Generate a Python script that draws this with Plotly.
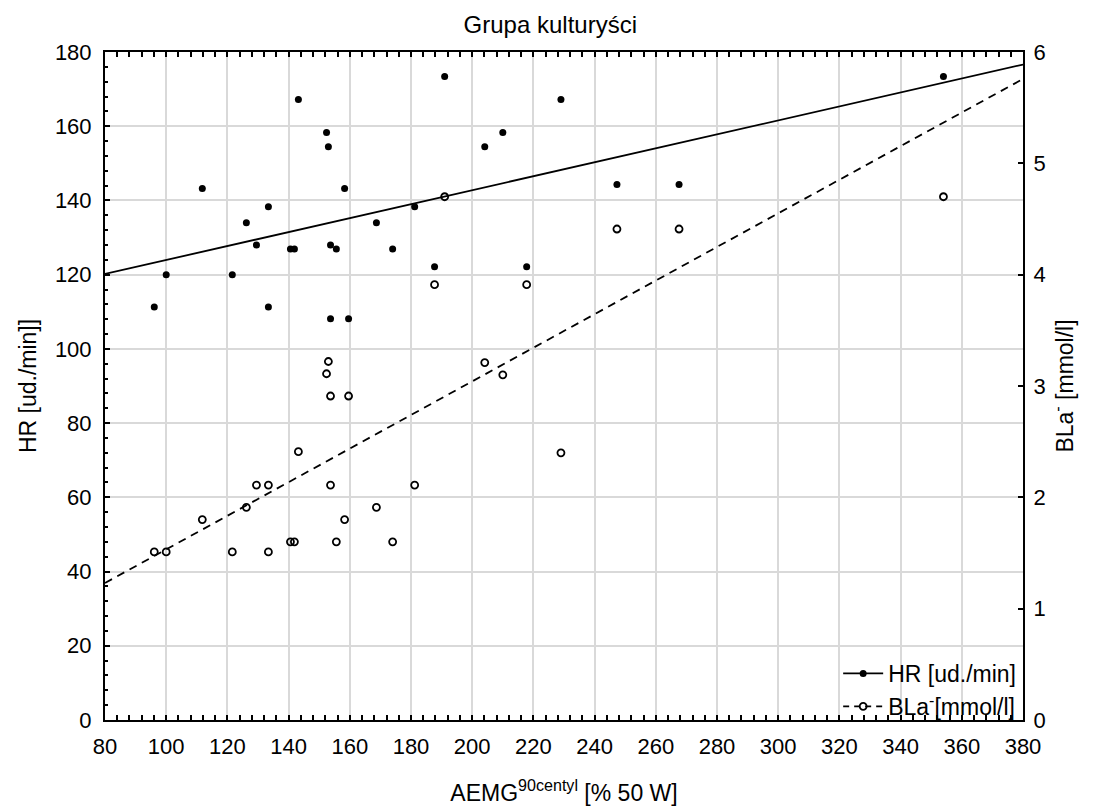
import numpy as np
import plotly.graph_objects as go

# AEMG 90 centyl [% 50 W]
aemg = [96.1, 100.0, 111.8, 121.6, 126.2, 129.5, 133.4, 133.4, 140.6, 141.9,
        143.2, 152.4, 153.0, 153.7, 153.7, 155.6, 158.3, 159.6, 168.7, 174.0,
        181.2, 187.7, 191.0, 204.1, 210.0, 217.8, 229.0, 247.3, 267.6, 354.0]
# HR [ud./min]
hr = [111.3, 120.0, 143.2, 120.0, 134.0, 128.0, 138.3, 111.3, 126.9, 126.9,
      167.2, 158.3, 154.5, 128.0, 108.1, 126.9, 143.2, 108.1, 134.0, 126.9,
      138.3, 122.1, 173.4, 154.5, 158.3, 122.1, 167.2, 144.3, 144.3, 173.4]
# BLa- [mmol/l]
bla = [1.51, 1.51, 1.80, 1.51, 1.91, 2.11, 2.11, 1.51, 1.60, 1.60,
       2.41, 3.11, 3.22, 2.91, 2.11, 1.60, 1.80, 2.91, 1.91, 1.60,
       2.11, 3.91, 4.70, 3.21, 3.10, 3.91, 2.40, 4.41, 4.41, 4.70]

x_range = [80, 380]
x_ticks = list(range(80, 381, 20))
y_ticks = list(range(0, 181, 20))
y2_ticks = [0, 1, 2, 3, 4, 5, 6]

FONT = "Liberation Sans, Arial, sans-serif"
TICK = 22
TITLE = 23

x_arr = np.array(aemg)
hr_fit = np.polyfit(x_arr, np.array(hr), 1)
bla_fit = np.polyfit(x_arr, np.array(bla), 1)
xl = np.array(x_range, dtype=float)

HR_MARK = dict(symbol="circle", size=7, color="black")
BLA_MARK = dict(symbol="circle-open", size=7, color="black",
                line=dict(width=1.8, color="black"))

fig = go.Figure()

fig.add_trace(go.Scatter(
    x=xl, y=np.polyval(hr_fit, xl), mode="lines",
    line=dict(color="black", width=1.8), showlegend=False, hoverinfo="skip"))
fig.add_trace(go.Scatter(
    x=xl, y=np.polyval(bla_fit, xl), mode="lines", yaxis="y2",
    line=dict(color="black", width=1.8, dash="8px,6px"), showlegend=False,
    hoverinfo="skip"))

fig.add_trace(go.Scatter(
    x=aemg, y=hr, mode="markers", name="HR [ud./min]",
    marker=HR_MARK, showlegend=False))
fig.add_trace(go.Scatter(
    x=aemg, y=bla, mode="markers", name="BLa<sup>-</sup>[mmol/l]", yaxis="y2",
    marker=BLA_MARK, showlegend=False))

# legend entries: fit-line style + marker
fig.add_trace(go.Scatter(
    x=[None], y=[None], mode="lines+markers", name="HR [ud./min]",
    line=dict(color="black", width=1.8), marker=HR_MARK))
fig.add_trace(go.Scatter(
    x=[None], y=[None], mode="lines+markers", name="BLa<sup>-</sup>[mmol/l]",
    line=dict(color="black", width=1.8, dash="6px,5px"), marker=BLA_MARK))

# white backdrop behind the legend (above grid, below axis lines)
fig.add_shape(type="rect", xref="paper", yref="paper",
              x0=0.78, x1=0.997, y0=0.004, y1=0.085,
              fillcolor="white", line=dict(width=0), layer="between")

fig.update_layout(
    width=1094, height=807,
    margin=dict(l=105, r=71, t=52, b=87, autoexpand=False),
    paper_bgcolor="white", plot_bgcolor="white",
    font=dict(family=FONT, size=TICK, color="black"),
    title=dict(text="Grupa kulturyści", x=0.503, xanchor="center",
               y=0.97, yanchor="middle", font=dict(size=24)),
    showlegend=True,
    legend=dict(x=0.998, y=-0.012, xanchor="right", yanchor="bottom",
                bgcolor="rgba(0,0,0,0)", borderwidth=0, font=dict(size=23),
                tracegroupgap=0, itemwidth=40),
    xaxis=dict(range=x_range, tickvals=x_ticks, showgrid=True,
               gridcolor="#d9d9d9", gridwidth=1.5, zeroline=False,
               showline=True, linecolor="black", linewidth=2,
               mirror="allticks", ticks="inside", ticklen=5,
               tickcolor="black", tickwidth=1.5, ticklabelstandoff=6,
               automargin=False,
               minor=dict(dtick=4, ticks="inside", ticklen=3,
                          tickcolor="black", showgrid=False),
               tickfont=dict(size=TICK),
               title=dict(text="AEMG<sup>90centyl</sup> [% 50 W]",
                          font=dict(size=TITLE), standoff=26)),
    yaxis=dict(range=[0, 180], tickvals=y_ticks, showgrid=True,
               gridcolor="#d9d9d9", gridwidth=1.5, zeroline=False,
               showline=True, linecolor="black", linewidth=2,
               mirror=True, ticks="inside", ticklen=5,
               tickcolor="black", tickwidth=1.5, ticklabelstandoff=7,
               automargin=False,
               minor=dict(dtick=4, ticks="inside", ticklen=3,
                          tickcolor="black", showgrid=False),
               tickfont=dict(size=TICK),
               title=dict(text="HR [ud./min]]", font=dict(size=TITLE),
                          standoff=12)),
    yaxis2=dict(range=[0, 6], tickvals=y2_ticks, overlaying="y",
                side="right", showgrid=False, zeroline=False,
                showline=True, linecolor="black", linewidth=2,
                ticks="inside", ticklen=5, tickcolor="black", tickwidth=1.5,
                ticklabelstandoff=4, automargin=False,
                tickfont=dict(size=TICK),
                title=dict(text="BLa<sup>-</sup> [mmol/l]",
                           font=dict(size=TITLE), standoff=12)),
)

fig.write_html("out.html")
